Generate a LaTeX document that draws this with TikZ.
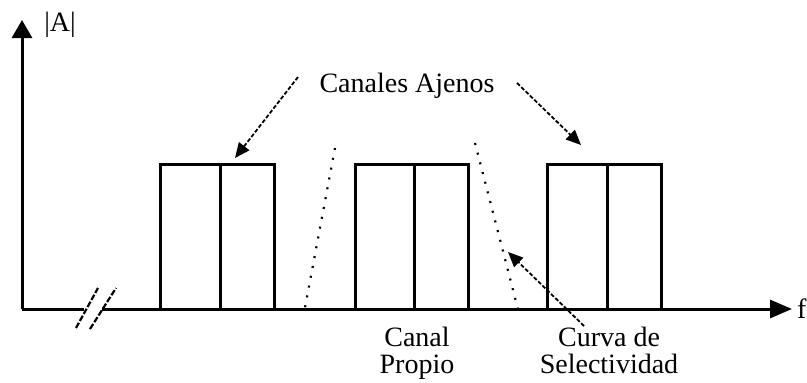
\documentclass[tikz,border=0pt]{standalone}
\usepackage{fontspec}
\setmainfont{Liberation Serif}
\usetikzlibrary{arrows.meta,calc}
\begin{document}
\begin{tikzpicture}[x=1pt,y=-1pt,
  axis/.style={line width=3pt},
  chbox/.style={draw, line width=3pt, minimum width=114pt, minimum height=145pt,
    inner sep=0pt, outer sep=0pt, anchor=south west},
  divider/.style={line width=3pt},
  ptr/.style={line width=1.8pt, dash pattern=on 4pt off 2pt,
    -{Triangle[length=15pt,width=13pt]}},
  selcurve/.style={line width=2.2pt, dash pattern=on 2pt off 8pt},
  brk/.style={line width=2.2pt, dash pattern=on 6pt off 2pt},
  lbl/.style={font=\fontsize{28}{27}\selectfont, inner sep=0pt, anchor=base, align=center}
]
\useasboundingbox (0,0) rectangle (807,383);
% axes
\coordinate (orig) at (22,309);
\coordinate (ytop) at (22,20);
\coordinate (gapL) at (84,309);
\coordinate (gapR) at (102,309);
\coordinate (xend) at (792,309);
\draw[axis,-{Triangle[length=18pt,width=20pt]}] (orig) -- (ytop);
\draw[axis] (orig) -- (gapL);
\draw[axis,-{Triangle[length=22pt,width=18pt]}] (gapR) -- (xend);
\node[lbl] (lblA) at (60,31) {|A|};
\node[lbl, anchor=base west] (lblf) at (797,318) {f};
% break marks
\coordinate (b1s) at (76,328); \coordinate (b1e) at (98,288);
\coordinate (b2s) at (90,329); \coordinate (b2e) at (116,288);
\draw[brk] (b1s) -- (b1e);
\draw[brk] (b2s) -- (b2e);
% channels
\node[chbox] (box1) at (160,309) {};
\node[chbox, minimum width=113pt] (box2) at (355,309) {};
\node[chbox] (box3) at (547,309) {};
\draw[divider] ($(box1.north)+(3.5,0)$) -- ($(box1.south)+(3.5,0)$);
\draw[divider] ($(box2.north)+(2.5,0)$) -- ($(box2.south)+(2.5,0)$);
\draw[divider] ($(box3.north)+(3,0)$) -- ($(box3.south)+(3,0)$);
% selectivity curve
\coordinate (sl1) at (335,148); \coordinate (sl2) at (304,313);
\coordinate (sr1) at (475,143); \coordinate (sr2) at (520,317);
\draw[selcurve] (sl1) -- (sl2);
\draw[selcurve] (sr1) -- (sr2);
% labels
\node[lbl] (canales) at (407,92) {Canales Ajenos};
\node[lbl] (propio) at (417,373) {Canal\\Propio};
\node[lbl] (curva) at (609,373) {Curva de\\Selectividad};
% pointers
\coordinate (pa1) at (298,77); \coordinate (ta1) at (235,158);
\coordinate (pa2) at (517,83); \coordinate (ta2) at (581,145);
\coordinate (pa3) at (584,326); \coordinate (ta3) at (508,252);
\draw[ptr] (pa1) -- (ta1);
\draw[ptr] (pa2) -- (ta2);
\draw[ptr] (pa3) -- (ta3);
\end{tikzpicture}
\end{document}
